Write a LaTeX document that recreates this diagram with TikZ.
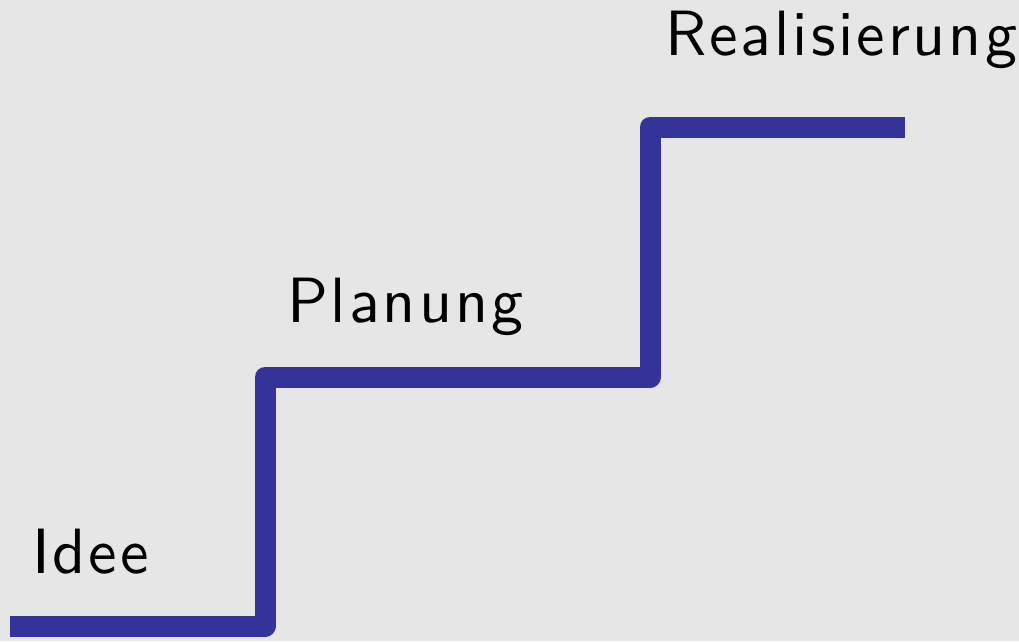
\documentclass[tikz,border=0pt]{standalone}
\usepackage{fontspec}
\newfontfamily\lblfont[LetterSpace=4.6]{lmsans10-regular.otf}
\definecolor{bg}{HTML}{E6E6E6}
\definecolor{stair}{HTML}{333399}
\begin{document}
\begin{tikzpicture}[x=1pt,y=-1pt,
  lbl/.style={anchor=base west,inner sep=0pt,font=\lblfont\fontsize{64}{64}\selectfont},
  stairline/.style={draw=stair,line width=21pt,line join=round,line cap=butt}]
\fill[bg] (0,0) rectangle (1019,641);
\useasboundingbox (0,0) rectangle (1019,641);
\coordinate (s0) at (10,626);
\coordinate (s1) at (265,626);
\coordinate (s2) at (265,377);
\coordinate (s3) at (650,377);
\coordinate (s4) at (650,127);
\coordinate (s5) at (905,127);
\draw[stairline] (s0) -- (s1) -- (s2) -- (s3) -- (s4) -- (s5);
\node[lbl] (idee) at (32,573) {Idee};
\node[lbl] (plan) at (287,322) {Planung};
\node[lbl] (real) at (665,55) {Realisierung};
\end{tikzpicture}
\end{document}
